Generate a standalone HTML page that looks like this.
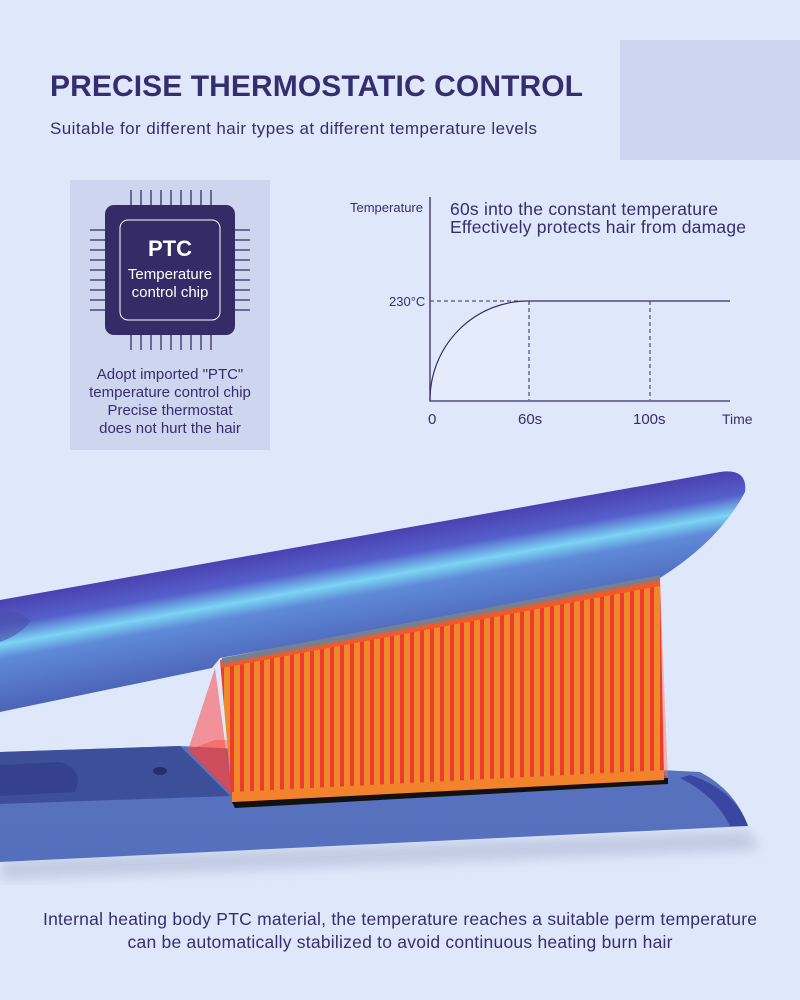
<!DOCTYPE html>
<html><head><meta charset="utf-8"><style>
html,body{margin:0;padding:0}
body{width:800px;height:1000px;background:#dfe8fb;font-family:"Liberation Sans",Arial,sans-serif;position:relative;overflow:hidden}
</style></head><body>
<svg width="800" height="1000" viewBox="0 0 800 1000" xmlns="http://www.w3.org/2000/svg" style="position:absolute;left:0;top:0">
<defs>
<linearGradient id="arm" gradientUnits="userSpaceOnUse" x1="300" y1="545" x2="319" y2="652">
<stop offset="0" stop-color="#4a3fae"/><stop offset="0.25" stop-color="#5560cc"/><stop offset="0.42" stop-color="#7cd4f4"/><stop offset="0.55" stop-color="#5f8ad8"/><stop offset="1" stop-color="#4d66ba"/>
</linearGradient>
<linearGradient id="base" x1="0" y1="0" x2="0" y2="1">
<stop offset="0" stop-color="#5a72bf"/><stop offset="1" stop-color="#5470bc"/>
</linearGradient>
<pattern id="stripes" width="10" height="10" patternUnits="userSpaceOnUse">
<rect width="10" height="10" fill="#ef8a2a"/><rect width="4" height="10" fill="#ef3a30"/>
</pattern>
<filter id="blur"><feGaussianBlur stdDeviation="6"/></filter>
</defs>
<rect x="620" y="40" width="180" height="120" fill="#cdd6ef"/>
<text x="50" y="96" font-size="30" font-weight="bold" fill="#352d6e" textLength="533">PRECISE THERMOSTATIC CONTROL</text>
<text x="50" y="134" font-size="17" fill="#352d6e" textLength="487">Suitable for different hair types at different temperature levels</text>
<rect x="70" y="180" width="200" height="270" fill="#cdd6ee"/>
<g stroke="#352b66" stroke-width="1.3">
<path d="M131 190v15M141 190v15M151 190v15M161 190v15M171 190v15M181 190v15M191 190v15M201 190v15M211 190v15"/>
<path d="M131 335v15M141 335v15M151 335v15M161 335v15M171 335v15M181 335v15M191 335v15M201 335v15M211 335v15"/>
<path d="M90 230h15M90 240h15M90 250h15M90 260h15M90 270h15M90 280h15M90 290h15M90 300h15M90 310h15"/>
<path d="M235 230h15M235 240h15M235 250h15M235 260h15M235 270h15M235 280h15M235 290h15M235 300h15M235 310h15"/>
</g>
<rect x="105" y="205" width="130" height="130" rx="9" fill="#352b66"/>
<rect x="120" y="220" width="100" height="100" rx="8" fill="none" stroke="#fff" stroke-width="1"/>
<text x="170" y="256" font-size="22" font-weight="bold" fill="#fff" text-anchor="middle">PTC</text>
<text x="170" y="279" font-size="15" fill="#fff" text-anchor="middle">Temperature</text>
<text x="170" y="297" font-size="15" fill="#fff" text-anchor="middle">control chip</text>
<g font-size="15" fill="#352d6e" text-anchor="middle">
<text x="170" y="379">Adopt imported "PTC"</text>
<text x="170" y="397">temperature control chip</text>
<text x="170" y="415">Precise thermostat</text>
<text x="170" y="433">does not hurt the hair</text>
</g>
<path d="M430 400 A98 99 0 0 1 528 301 L528 400Z" fill="#e4ecfc"/>
<g stroke="#352b66" fill="none">
<path d="M430 197V401H730" stroke-width="1.3"/>
<path d="M528 301H730" stroke-width="1.3"/>
<path d="M430 400 A98 99 0 0 1 528 301" stroke-width="1.2"/>
<path d="M430 301H528M529 301V400M650 301V400" stroke-dasharray="4 3" stroke-width="1"/>
</g>
<text x="350" y="212" font-size="13" fill="#352d6e">Temperature</text>
<text x="450" y="215" font-size="17.5" fill="#352d6e" textLength="268">60s into the constant temperature</text>
<text x="450" y="233" font-size="17.5" fill="#352d6e" textLength="296">Effectively protects hair from damage</text>
<text x="389" y="306" font-size="13" fill="#352d6e">230°C</text>
<g font-size="15" fill="#352d6e">
<text x="428" y="424">0</text><text x="518" y="424">60s</text><text x="633" y="424">100s</text><text x="722" y="424" font-size="14">Time</text>
</g>
<path d="M0 860 L748 830 L760 850 L0 880Z" fill="#b9c3dc" filter="url(#blur)" opacity="0.8"/>
<path d="M0 752 L180 746 L700 772 Q735 790 748 826 L0 862Z" fill="url(#base)"/>
<path d="M0 752 L180 746 L230 796 L0 804Z" fill="#3e4f9a"/>
<path d="M690 775 Q735 790 748 826 L730 826 Q715 795 680 778Z" fill="#3b46a0"/>
<ellipse cx="160" cy="771" rx="7" ry="4" fill="#252f6a"/>
<path d="M0 765 L60 762 Q85 770 75 792 L0 796Z" fill="#36418e"/>
<path d="M232 802 L668 778 L668 784 L235 808Z" fill="#111"/>
<path d="M215 668 L188 750 L232 795 Z" fill="#ff4a4a" opacity="0.55"/>
<path d="M660 583 L615 735 L668 778 Z" fill="#ff7a5a" opacity="0.45"/>
<path d="M188 750 L232 795 L668 778 L640 735 L215 740Z" fill="#ff3020" opacity="0.35"/>
<path d="M220 660 L660 578 L664 778 L232 800 Z" fill="url(#stripes)"/>
<path d="M232 792 L664 770 L664 780 L232 802Z" fill="#f2822c"/>
<path d="M220 660 L660 578 L660 586 L222 668Z" fill="#f05a2a"/>
<path d="M0 600 L720 472 Q748 468 745 492 Q720 540 660 578 L220 658 L212 668 L0 712Z" fill="url(#arm)"/>
<path d="M222 658 L660 575 L660 580 L222 664Z" fill="#7a7f90"/>
<path d="M0 612 Q25 610 30 622 Q20 635 0 642Z" fill="#4850a8" opacity="0.6"/>
<text x="400" y="925" font-size="17.5" fill="#352d6e" text-anchor="middle" textLength="714">Internal heating body PTC material, the temperature reaches a suitable perm temperature</text>
<text x="400" y="948" font-size="17.5" fill="#352d6e" text-anchor="middle" textLength="545">can be automatically stabilized to avoid continuous heating burn hair</text>
</svg>
</body></html>
